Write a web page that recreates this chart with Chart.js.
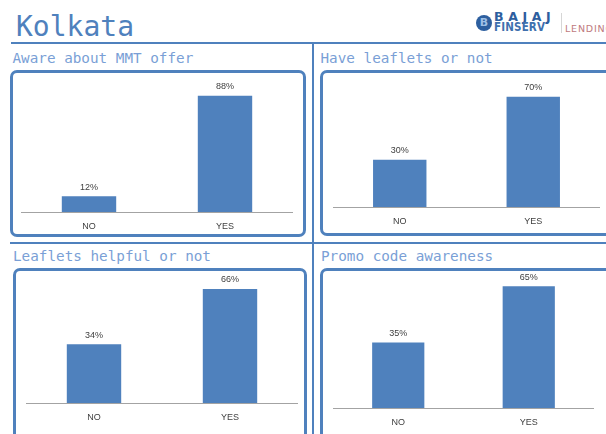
<!DOCTYPE html>
<html>
<head>
<meta charset="utf-8">
<script src="https://cdn.jsdelivr.net/npm/chart.js@4.4.1/dist/chart.umd.min.js"></script>
<style>
  html, body { margin: 0; padding: 0; background: #fff; }
  body { width: 606px; height: 434px; position: relative; overflow: hidden; }
  .abs { position: absolute; }
  .city { left: 16px; top: 13px; font: 28px/28px "DejaVu Sans Mono", monospace; color: #4f81bd; white-space: nowrap; }
  .ptitle { font: 14.3px/14.3px "DejaVu Sans Mono", monospace; color: #7a9fd6; white-space: nowrap; }
  .rule { background: #4f81bd; }
  .box { border: 3px solid #4f81bd; border-radius: 7px; box-sizing: border-box; }
  canvas { position: absolute; }
  .logo-ring { left: 476px; top: 15px; width: 16px; height: 16px; border-radius: 50%; background: #2d5f9f; color: #9fc0e6;
               font: bold 11px/16px "DejaVu Sans", sans-serif; text-align: center; }
  .logo-a { left: 494px; top: 11px; font: bold 12.5px/12.5px "DejaVu Sans", sans-serif; letter-spacing: 4.6px; color: #2d5e9e; }
  .logo-b { left: 494px; top: 21px; font: bold 12px/12px "DejaVu Sans", sans-serif; letter-spacing: 0.2px; color: #3f70ae;
            transform: scaleX(0.86); transform-origin: left top; }
  .logo-sep { left: 561px; top: 13px; width: 1px; height: 20px; background: #d6d6d6; }
  .logo-c { left: 565px; top: 24px; font: 9.5px/9.5px "DejaVu Sans", sans-serif; letter-spacing: 0.8px; color: #c07a80; }
</style>
</head>
<body>
<div class="abs city">Kolkata</div>

<div class="abs logo-ring">B</div>
<div class="abs logo-a">BAJAJ</div>
<div class="abs logo-b">FINSERV</div>
<div class="abs logo-sep"></div>
<div class="abs logo-c">LENDING</div>

<!-- frame lines -->
<div class="abs rule" style="left:11px; top:42px; width:595px; height:2px;"></div>
<div class="abs rule" style="left:312px; top:42px; width:2px; height:392px;"></div>
<div class="abs rule" style="left:10px; top:242px; width:596px; height:2px;"></div>

<!-- panel boxes -->
<div class="abs box" style="left:10px; top:70px; width:296px; height:167px;"></div>
<div class="abs box" style="left:320px; top:70px; width:300px; height:166px;"></div>
<div class="abs box" style="left:13px; top:268px; width:294px; height:190px;"></div>
<div class="abs box" style="left:320px; top:268px; width:300px; height:190px;"></div>

<div id="titles"></div>

<script>
// Survey results, Kolkata (share of respondents, %)
const categories = ['NO', 'YES'];
const awareMMT = [12, 88];
const haveLeaflets = [30, 70];
const leafletsHelpful = [34, 66];
const promoAwareness = [35, 65];
const panelTitles = ['Aware about MMT offer', 'Have leaflets or not', 'Leaflets helpful or not', 'Promo code awareness'];

// Per-panel layout: plot area edges and value-axis ceiling
const panels = [
  { values: awareMMT,        title: panelTitles[0], tx: 12.5,  ty: 51,  left: 21,  right: 293, top: 80,  bottom: 212, yMax: 100 },
  { values: haveLeaflets,    title: panelTitles[1], tx: 320.5, ty: 51,  left: 333, right: 600, top: 81,  bottom: 207, yMax: 80 },
  { values: leafletsHelpful, title: panelTitles[2], tx: 13,    ty: 249, left: 26,  right: 298, top: 282, bottom: 403, yMax: 70 },
  { values: promoAwareness,  title: panelTitles[3], tx: 321,   ty: 249, left: 333, right: 594, top: 277, bottom: 408, yMax: 70 }
];

const PAD_TOP = 22;   // room above the plot for value labels
const X_AXIS_H = 26;  // height reserved for the category labels

const valueLabels = {
  id: 'valueLabels',
  afterDatasetsDraw(chart) {
    const ctx = chart.ctx;
    const meta = chart.getDatasetMeta(0);
    const data = chart.data.datasets[0].data;
    ctx.save();
    ctx.font = '9px "Liberation Sans", Arial, sans-serif';
    ctx.fillStyle = '#404040';
    ctx.textAlign = 'center';
    ctx.textBaseline = 'middle';
    meta.data.forEach((bar, i) => {
      ctx.fillText(data[i] + '%', bar.x, bar.y - 9);
    });
    ctx.restore();
  }
};

const titlesEl = document.getElementById('titles');

panels.forEach((p) => {
  const t = document.createElement('div');
  t.className = 'abs ptitle';
  t.style.left = p.tx + 'px';
  t.style.top = p.ty + 'px';
  t.textContent = p.title;
  titlesEl.appendChild(t);

  const c = document.createElement('canvas');
  const w = p.right - p.left;
  const h = PAD_TOP + (p.bottom - p.top) + X_AXIS_H;
  c.width = w;
  c.height = h;
  c.style.left = p.left + 'px';
  c.style.top = (p.top - PAD_TOP) + 'px';
  c.style.width = w + 'px';
  c.style.height = h + 'px';
  document.body.appendChild(c);

  new Chart(c, {
    type: 'bar',
    data: {
      labels: categories,
      datasets: [{
        data: p.values,
        backgroundColor: '#4f81bd',
        borderWidth: 0,
        barPercentage: 0.4,
        categoryPercentage: 1.0
      }]
    },
    options: {
      responsive: false,
      animation: false,
      devicePixelRatio: 1,
      layout: { padding: { top: PAD_TOP, left: 0, right: 0, bottom: 0 } },
      plugins: { legend: { display: false }, tooltip: { enabled: false } },
      scales: {
        x: {
          grid: { display: false, drawTicks: false },
          border: { display: true, color: '#a3a3a3', width: 1 },
          ticks: { color: '#404040', padding: 9, font: { size: 9, family: '"Liberation Sans", Arial, sans-serif' } },
          afterFit(scale) { scale.height = X_AXIS_H; }
        },
        y: { display: false, min: 0, max: p.yMax }
      }
    },
    plugins: [valueLabels]
  });
});
</script>
</body>
</html>
